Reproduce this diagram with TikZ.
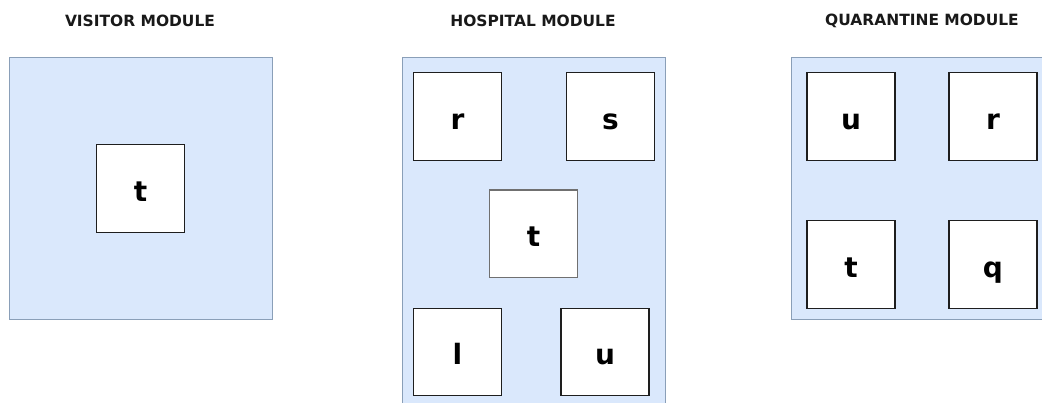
\documentclass[tikz,border=0pt]{standalone}
\usepackage{fontspec}
\setmainfont{DejaVu Sans}
\definecolor{modfill}{HTML}{DAE8FC}
\definecolor{moddraw}{HTML}{8A9FB8}
\definecolor{boxdraw}{HTML}{1E1E1E}
\definecolor{greydraw}{HTML}{707070}
\tikzset{
  module/.style={draw=moddraw, fill=modfill, line width=0.75pt, inner sep=0pt,
    minimum width=197.25pt},
  cell/.style={draw=boxdraw, fill=white, line width=0.8pt, inner sep=0pt,
    minimum width=66pt, minimum height=65.5pt, text height=21pt, text depth=2.2pt,
    font=\fontsize{21}{21}\selectfont\bfseries},
  greycell/.style={cell, draw=greydraw, line width=1pt},
  title/.style={inner sep=0pt, font=\fontsize{11.6}{13}\selectfont\bfseries, text=black!90}
}
\begin{document}
\begin{tikzpicture}[x=0.75pt,y=-0.75pt]
\clip (0,0) rectangle (1042,403);
\fill[white] (0,0) rectangle (1042,403);
% titles
\node[title] (tv) at (140,21) {VISITOR MODULE};
\node[title] (th) at (533,21) {HOSPITAL MODULE};
\node[title] (tq) at (922,21) {QUARANTINE MODULE};
% modules
\node[module, minimum height=195.75pt] (mv) at (140.5,188.5) {};
\node[module, minimum height=270pt] (mh) at (533.5,238) {};
\node[module, minimum height=195.75pt] (mq) at (922.5,188.5) {};
% visitor
\node[cell] (vt) at (140.5,188.5) {t};
% hospital
\node[cell] (hr) at (457.5,116.5) {r};
\node[cell] (hs) at (610.5,116.5) {s};
\node[greycell] (ht) at (533.5,233.5) {t};
\node[cell] (hl) at (457.5,352) {l};
\node[cell] (hu) at (605,352) {u};
% quarantine
\node[cell] (qu) at (851,116.5) {u};
\node[cell] (qr) at (993,116.5) {r};
\node[cell] (qt) at (851,264.5) {t};
\node[cell] (qq) at (993,264.5) {q};
\end{tikzpicture}
\end{document}
